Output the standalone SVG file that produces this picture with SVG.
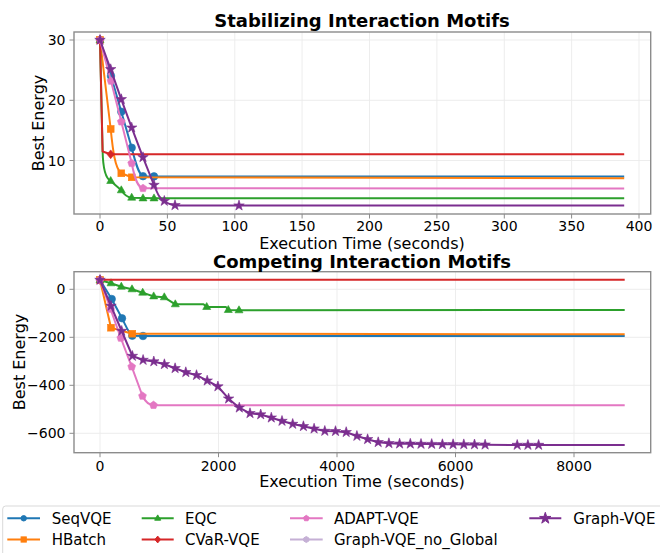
<svg xmlns="http://www.w3.org/2000/svg" xmlns:xlink="http://www.w3.org/1999/xlink" width="660" height="553" viewBox="0 0 660 553">
  <style>
    text { font-family: "DejaVu Sans", "Liberation Sans", sans-serif; fill: #000; }
    .title { font-size: 18px; font-weight: bold; text-anchor: middle; }
    .axlabel { font-size: 16px; text-anchor: middle; }
    .tick { font-size: 14px; }
    .xt { text-anchor: middle; }
    .yt { text-anchor: end; }
    .leg { font-size: 15px; }
    .grid { stroke: #ebebeb; stroke-width: 0.9; fill: none; }
    .spine { stroke: #8c8c8c; stroke-width: 1.4; fill: none; }
    .tickmark { stroke: #8c8c8c; stroke-width: 1; }
    .ln { fill: none; stroke-width: 2; stroke-linejoin: round; stroke-linecap: butt; }
    .seq { stroke: #1f77b4; fill: #1f77b4; }
    .hb { stroke: #ff7f0e; fill: #ff7f0e; }
    .eqc { stroke: #2ca02c; fill: #2ca02c; }
    .cvar { stroke: #d62728; fill: #d62728; }
    .adapt { stroke: #e377c2; fill: #e377c2; }
    .nog { stroke: #c5b0d5; fill: #c5b0d5; }
    .gv { stroke: #7b2e8f; fill: #7b2e8f; }
    .ln.seq, .ln.hb, .ln.eqc, .ln.cvar, .ln.adapt, .ln.nog, .ln.gv { fill: none; }
    .mk use { stroke-width: 0.6; }
  </style>
  <defs>
    <!-- plot markers -->
    <circle id="m-circle" r="3.8"/>
    <rect id="m-square" x="-3.4" y="-3.4" width="6.8" height="6.8"/>
    <polygon id="m-tri" points="0,-4.5 4,2.5 -4,2.5"/>
    <polygon id="m-diam" points="0,-4.4 3.7,0 0,4.4 -3.7,0"/>
    <polygon id="m-pent" points="0,-4.1 3.9,-1.27 2.41,3.32 -2.41,3.32 -3.9,-1.27"/>
    <polygon id="m-star" points="0,-5.5 1.235,-1.7 5.231,-1.7 1.998,0.649 3.233,4.45 0,2.101 -3.233,4.45 -1.998,0.649 -5.231,-1.7 -1.235,-1.7"/>
    <!-- legend markers -->
    <circle id="l-circle" r="2.7"/>
    <rect id="l-square" x="-2.6" y="-2.6" width="5.2" height="5.2"/>
    <polygon id="l-tri" points="0,-3.4 3,1.9 -3,1.9"/>
    <polygon id="l-diam" points="0,-3.4 2.8,0 0,3.4 -2.8,0"/>
    <polygon id="l-pent" points="0,-3 2.85,-0.93 1.76,2.43 -1.76,2.43 -2.85,-0.93"/>
    <polygon id="l-hex" points="0,-3 2.6,-1.5 2.6,1.5 0,3 -2.6,1.5 -2.6,-1.5"/>
    <polygon id="l-star" points="0,-6 1.347,-1.854 5.706,-1.854 2.18,0.708 3.527,4.854 0,2.292 -3.527,4.854 -2.18,0.708 -5.706,-1.854 -1.347,-1.854"/>
  </defs>

  <rect width="660" height="553" fill="#ffffff"/>

  <!-- ===== Upper panel: Stabilizing Interaction Motifs ===== -->
  <g id="panel-stabilizing">
    <g id="top-grid">
      <path class="grid" d="M100,32V214M167.4,32V214M234.8,32V214M302.1,32V214M369.5,32V214M436.9,32V214M504.3,32V214M571.6,32V214M639,32V214"/>
      <path class="grid" d="M74,40H650.7M74,100.3H650.7M74,160.5H650.7"/>
    </g>

    <g id="top-series">
      <!-- SeqVQE -->
      <path class="ln seq" d="M100,40 L111,76 L121.3,111.7 L131.7,147.7 C135.5,163 138.5,174 143,176.2 L154,176.5 L624.2,176.5"/>
      <g class="mk seq">
        <use href="#m-circle" x="100" y="40"/><use href="#m-circle" x="111" y="76"/><use href="#m-circle" x="121.3" y="111.7"/>
        <use href="#m-circle" x="131.7" y="147.7"/><use href="#m-circle" x="143" y="176.2"/><use href="#m-circle" x="154" y="176.4"/>
      </g>
      <!-- HBatch -->
      <path class="ln hb" d="M100,40 L110.7,129 C112.8,150 115,168.5 121.3,173.3 L131.7,177.3 L624.2,178.3"/>
      <g class="mk hb">
        <use href="#m-square" x="100" y="40"/><use href="#m-square" x="110.7" y="129"/><use href="#m-square" x="121.3" y="173.3"/><use href="#m-square" x="131.7" y="177.3"/>
      </g>
      <!-- EQC -->
      <path class="ln eqc" d="M100,40 L102.6,151 C103,170 105.5,178.5 110.7,181 L121.3,190.3 C125,196 127.5,197.5 131.7,197.8 L154,198.3 L624.2,198.3"/>
      <g class="mk eqc">
        <use href="#m-tri" x="100" y="40"/><use href="#m-tri" x="110.7" y="181"/><use href="#m-tri" x="121.3" y="190.3"/>
        <use href="#m-tri" x="131.7" y="197.7"/><use href="#m-tri" x="143" y="198.4"/><use href="#m-tri" x="154" y="198.4"/>
      </g>
      <!-- CVaR-VQE -->
      <path class="ln cvar" d="M100,40 L102.6,151.5 L110.7,154.2 L624.2,154.2"/>
      <g class="mk cvar">
        <use href="#m-diam" x="100" y="40"/><use href="#m-diam" x="110.7" y="154.3"/>
      </g>
      <!-- ADAPT-VQE -->
      <path class="ln adapt" d="M100,40 L111,81 L121.3,121.7 L131.7,163.3 C135,180 138,187.5 143,188.3 L624.2,188.6"/>
      <g class="mk adapt">
        <use href="#m-pent" x="100" y="40"/><use href="#m-pent" x="111" y="81"/><use href="#m-pent" x="121.3" y="121.7"/>
        <use href="#m-pent" x="131.7" y="163.3"/><use href="#m-pent" x="143" y="188.3"/>
      </g>
      <!-- Graph-VQE -->
      <path class="ln gv" d="M100,40 L110.7,69.3 L121.3,99.3 L131.7,127.7 L143,157.3 L154,185 C158,195 160,199 164.3,201 C168,203.5 171,205 175,205.4 L624.2,205.6"/>
      <g class="mk gv">
        <use href="#m-star" x="100" y="40"/><use href="#m-star" x="110.7" y="69.3"/><use href="#m-star" x="121.3" y="99.3"/>
        <use href="#m-star" x="131.7" y="127.7"/><use href="#m-star" x="143" y="157.3"/><use href="#m-star" x="154" y="185"/>
        <use href="#m-star" x="164.3" y="201"/><use href="#m-star" x="175" y="205.3"/><use href="#m-star" x="239" y="205.6"/>
      </g>
    </g>

    <rect class="spine" x="74" y="32" width="576.7" height="182"/>
    <path class="tickmark" d="M100,214v4.5M167.4,214v4.5M234.8,214v4.5M302.1,214v4.5M369.5,214v4.5M436.9,214v4.5M504.3,214v4.5M571.6,214v4.5M639,214v4.5M74,40h-4.5M74,100.3h-4.5M74,160.5h-4.5"/>

    <g class="tick xt">
      <text x="100" y="230.5">0</text>
      <text x="167.4" y="230.5">50</text>
      <text x="234.8" y="230.5">100</text>
      <text x="302.1" y="230.5">150</text>
      <text x="369.5" y="230.5">200</text>
      <text x="436.9" y="230.5">250</text>
      <text x="504.3" y="230.5">300</text>
      <text x="571.6" y="230.5">350</text>
      <text x="639" y="230.5">400</text>
    </g>
    <g class="tick yt">
      <text x="65.5" y="45">30</text>
      <text x="65.5" y="105.3">20</text>
      <text x="65.5" y="165.5">10</text>
    </g>

    <text class="title" x="362" y="27">Stabilizing Interaction Motifs</text>
    <text class="axlabel" x="362" y="248.5">Execution Time (seconds)</text>
    <text class="axlabel" transform="translate(43.5,123) rotate(-90)">Best Energy</text>
  </g>

  <!-- ===== Lower panel: Competing Interaction Motifs ===== -->
  <g id="panel-competing">
    <g id="bottom-grid">
      <path class="grid" d="M100,271.7V452.7M218.5,271.7V452.7M337,271.7V452.7M455.5,271.7V452.7M574,271.7V452.7"/>
      <path class="grid" d="M74,289.3H650.7M74,337.3H650.7M74,385.3H650.7M74,433.3H650.7"/>
    </g>

    <g id="bottom-series">
      <!-- SeqVQE -->
      <path class="ln seq" d="M100,280 L111.7,299 L122,318.3 C126,326 129,334 132.3,335.7 L143,336 L624.7,336"/>
      <g class="mk seq">
        <use href="#m-circle" x="100" y="280"/><use href="#m-circle" x="111.7" y="299"/><use href="#m-circle" x="122" y="318.3"/>
        <use href="#m-circle" x="132.3" y="335.7"/><use href="#m-circle" x="143" y="336"/>
      </g>
      <!-- HBatch -->
      <path class="ln hb" d="M100,280 L111,327.7 L132.3,333.7 L624.7,334.3"/>
      <g class="mk hb">
        <use href="#m-square" x="100" y="280"/><use href="#m-square" x="111" y="327.7"/><use href="#m-square" x="132.3" y="333.7"/>
      </g>
      <!-- EQC -->
      <path class="ln eqc" d="M100,280 L111,283.3 L121.3,286.7 L132,289.3 L142.7,292.7 L153.7,296.4 L164.3,297.3 L175.3,304.3 L203.5,304.3 L206.7,307 L226,307 L228.3,310 L239,310.2 L624.7,310"/>
      <g class="mk eqc">
        <use href="#m-tri" x="100" y="280"/><use href="#m-tri" x="111" y="283.3"/><use href="#m-tri" x="121.3" y="286.7"/>
        <use href="#m-tri" x="132" y="289.3"/><use href="#m-tri" x="142.7" y="292.7"/><use href="#m-tri" x="153.7" y="296.4"/>
        <use href="#m-tri" x="164.3" y="297.3"/><use href="#m-tri" x="175.3" y="304.3"/><use href="#m-tri" x="206.7" y="307"/>
        <use href="#m-tri" x="228.3" y="310"/><use href="#m-tri" x="239" y="310.3"/>
      </g>
      <!-- CVaR-VQE -->
      <path class="ln cvar" d="M100,279.8 L624.7,279.7"/>
      <g class="mk cvar">
        <use href="#m-diam" x="100" y="280"/>
      </g>
      <!-- ADAPT-VQE -->
      <path class="ln adapt" d="M100,280 L110.5,309 L120.8,338 L131.7,366.7 L142.5,396 C146,403 149,405 153.5,405.2 L624.7,405.2"/>
      <g class="mk adapt">
        <use href="#m-pent" x="100" y="280"/><use href="#m-pent" x="110.5" y="309"/><use href="#m-pent" x="120.8" y="338"/>
        <use href="#m-pent" x="131.7" y="366.7"/><use href="#m-pent" x="142.5" y="396"/><use href="#m-pent" x="153.5" y="405.2"/>
      </g>
      <!-- Graph-VQE -->
      <path class="ln gv" d="M100,280 L111,306 L121.7,331 L132.4,356 L143.1,360 L153.8,361.5 L164.4,364.3 L175.1,368.3 L185.8,372.3 L196.5,375.2 L207.2,380.7 L217.9,386.5 L228.6,398.7 L239.3,407.7 L250,413.3 L260.7,414.5 L271.3,417.7 L282,421 L292.7,424 L303.4,426.3 L314.1,428.7 L324.8,431 L335.5,431.2 L346.2,432.2 L356.9,436 L367.6,439.3 L378.2,442.3 L388.9,443.3 L399.6,443.7 L410.3,443.8 L421,444 L431.7,444.1 L442.4,444.3 L453.1,444.3 L463.8,444.4 L474.5,444.5 L485.1,444.7 L517.2,445 L624.7,445"/>
      <g class="mk gv">
        <use href="#m-star" x="100" y="280"/><use href="#m-star" x="111" y="306"/><use href="#m-star" x="121.7" y="331"/>
        <use href="#m-star" x="132.4" y="356"/><use href="#m-star" x="143.1" y="360"/><use href="#m-star" x="153.8" y="361.5"/>
        <use href="#m-star" x="164.4" y="364.3"/><use href="#m-star" x="175.1" y="368.3"/><use href="#m-star" x="185.8" y="372.3"/>
        <use href="#m-star" x="196.5" y="375.2"/><use href="#m-star" x="207.2" y="380.7"/><use href="#m-star" x="217.9" y="386.5"/>
        <use href="#m-star" x="228.6" y="398.7"/><use href="#m-star" x="239.3" y="407.7"/><use href="#m-star" x="250" y="413.3"/>
        <use href="#m-star" x="260.7" y="414.5"/><use href="#m-star" x="271.3" y="417.7"/><use href="#m-star" x="282" y="421"/>
        <use href="#m-star" x="292.7" y="424"/><use href="#m-star" x="303.4" y="426.3"/><use href="#m-star" x="314.1" y="428.7"/>
        <use href="#m-star" x="324.8" y="431"/><use href="#m-star" x="335.5" y="431.2"/><use href="#m-star" x="346.2" y="432.2"/>
        <use href="#m-star" x="356.9" y="436"/><use href="#m-star" x="367.6" y="439.3"/><use href="#m-star" x="378.2" y="442.3"/>
        <use href="#m-star" x="388.9" y="443.3"/><use href="#m-star" x="399.6" y="443.7"/><use href="#m-star" x="410.3" y="443.8"/>
        <use href="#m-star" x="421" y="444"/><use href="#m-star" x="431.7" y="444.1"/><use href="#m-star" x="442.4" y="444.3"/>
        <use href="#m-star" x="453.1" y="444.3"/><use href="#m-star" x="463.8" y="444.4"/><use href="#m-star" x="474.5" y="444.5"/>
        <use href="#m-star" x="485.1" y="444.7"/><use href="#m-star" x="517.2" y="445"/><use href="#m-star" x="527.9" y="445"/>
        <use href="#m-star" x="538.6" y="445"/>
      </g>
    </g>

    <rect class="spine" x="74" y="271.7" width="576.7" height="181"/>
    <path class="tickmark" d="M100,452.7v4.5M218.5,452.7v4.5M337,452.7v4.5M455.5,452.7v4.5M574,452.7v4.5M74,289.3h-4.5M74,337.3h-4.5M74,385.3h-4.5M74,433.3h-4.5"/>

    <g class="tick xt">
      <text x="100" y="470.5">0</text>
      <text x="218.5" y="470.5">2000</text>
      <text x="337" y="470.5">4000</text>
      <text x="455.5" y="470.5">6000</text>
      <text x="574" y="470.5">8000</text>
    </g>
    <g class="tick yt">
      <text x="65.5" y="294.3">0</text>
      <text x="65.5" y="342.3">−200</text>
      <text x="65.5" y="390.3">−400</text>
      <text x="65.5" y="438.3">−600</text>
    </g>

    <text class="title" x="362" y="267.5">Competing Interaction Motifs</text>
    <text class="axlabel" x="362" y="487">Execution Time (seconds)</text>
    <text class="axlabel" transform="translate(24.5,362) rotate(-90)">Best Energy</text>
  </g>

  <!-- ===== Shared legend ===== -->
  <g id="legend">
    <rect x="2.7" y="506" width="700" height="80" rx="3" fill="#ffffff" stroke="#d9d9d9" stroke-width="1"/>
    <g id="leg-seqvqe">
      <path class="ln seq" d="M7.3,518.3H40"/><use class="seq" href="#l-circle" x="23.7" y="518.3"/>
      <text class="leg" x="51.7" y="523.5">SeqVQE</text>
    </g>
    <g id="leg-hbatch">
      <path class="ln hb" d="M7.3,539.5H40"/><use class="hb" href="#l-square" x="23.7" y="539.5"/>
      <text class="leg" x="51.7" y="544.8">HBatch</text>
    </g>
    <g id="leg-eqc">
      <path class="ln eqc" d="M141.7,518.3H173.7"/><use class="eqc" href="#l-tri" x="157.7" y="518.3"/>
      <text class="leg" x="185" y="523.5">EQC</text>
    </g>
    <g id="leg-cvar">
      <path class="ln cvar" d="M141.7,539.5H173.7"/><use class="cvar" href="#l-diam" x="157.7" y="539.5"/>
      <text class="leg" x="185" y="544.8">CVaR-VQE</text>
    </g>
    <g id="leg-adapt">
      <path class="ln adapt" d="M290,518.3H322.7"/><use class="adapt" href="#l-pent" x="306.3" y="518.3"/>
      <text class="leg" x="334" y="523.5">ADAPT-VQE</text>
    </g>
    <g id="leg-noglobal">
      <path class="ln nog" d="M290,539.5H322.7"/><use class="nog" href="#l-hex" x="306.3" y="539.5"/>
      <text class="leg" x="334" y="544.8">Graph-VQE_no_Global</text>
    </g>
    <g id="leg-graphvqe">
      <path class="ln gv" d="M529.3,518.3H561.3"/><use class="gv" href="#l-star" x="545.3" y="518.3"/>
      <text class="leg" x="573.3" y="523.5">Graph-VQE</text>
    </g>
  </g>
</svg>
